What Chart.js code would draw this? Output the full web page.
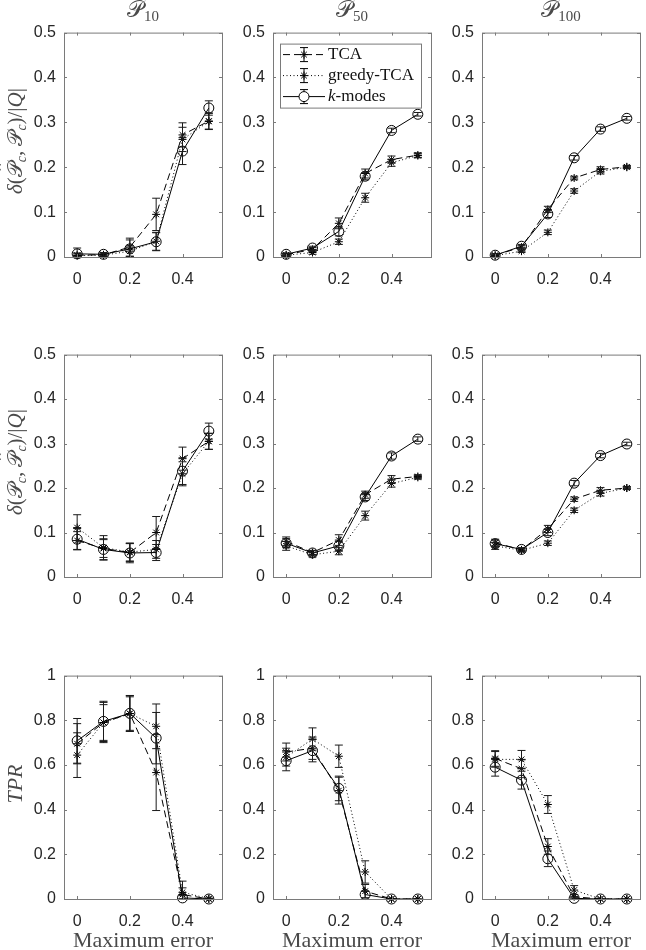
<!DOCTYPE html>
<html>
<head>
<meta charset="utf-8">
<script src="https://cdn.jsdelivr.net/npm/chart.js@4.4.0/dist/chart.umd.min.js"></script>
<style>
  html, body { margin: 0; padding: 0; background: #fff; }
  #wrap { position: relative; width: 646px; height: 950px; overflow: hidden; }
  canvas { position: absolute; }
  .lbl { position: absolute; font-family: 'Liberation Serif', serif; color: #4a4a4a;
         white-space: nowrap; transform: translate(-50%, -50%); }
  .rot { transform: translate(-50%, -50%) rotate(-90deg); }
  .cal { font-family: 'DejaVu Serif', 'DejaVu Sans', serif; font-style: normal; }
  sub { font-size: 65%; vertical-align: -0.3em; line-height: 0; }
  .hat { position: relative; display: inline-block; }
  .hat::before { content: 'ˆ'; position: absolute; left: 0.3em; top: -0.45em; font-style: normal; }
</style>
</head>
<body>
<div id="wrap"></div>
<script>
'use strict';

// ---------------------------------------------------------------------------
// Data
// ---------------------------------------------------------------------------

const xVals  = [0, 0.1, 0.2, 0.3, 0.4, 0.5];
const xTicks = [0, 0.2, 0.4];
const yTicksDist = [0, 0.1, 0.2, 0.3, 0.4, 0.5];
const yTicksTpr  = [0, 0.2, 0.4, 0.6, 0.8, 1];
const seriesNames = ['TCA', 'greedy-TCA', 'k-modes'];
const columnTitles = ['10', '50', '100'];

// row 1: delta(P^_c, P_c)/|Q|
const r1p10Tca       = [0.004, 0.005, 0.022, 0.095, 0.272, 0.303];
const r1p10TcaErr    = [0.005, 0.004, 0.020, 0.036, 0.027, 0.018];
const r1p10Greedy    = [0.003, 0.004, 0.013, 0.035, 0.262, 0.302];
const r1p10GreedyErr = [0.004, 0.003, 0.012, 0.020, 0.027, 0.018];
const r1p10Kmodes    = [0.007, 0.006, 0.018, 0.034, 0.236, 0.332];
const r1p10KmodesErr = [0.013, 0.004, 0.020, 0.020, 0.030, 0.016];

const r1p50Tca       = [0.005, 0.017, 0.075, 0.186, 0.217, 0.227];
const r1p50TcaErr    = [0.003, 0.004, 0.012, 0.010, 0.008, 0.005];
const r1p50Greedy    = [0.004, 0.010, 0.034, 0.132, 0.210, 0.226];
const r1p50GreedyErr = [0.003, 0.004, 0.006, 0.010, 0.008, 0.005];
const r1p50Kmodes    = [0.006, 0.020, 0.057, 0.180, 0.282, 0.318];
const r1p50KmodesErr = [0.003, 0.004, 0.010, 0.008, 0.005, 0.004];

const r1p100Tca       = [0.004, 0.022, 0.106, 0.176, 0.195, 0.201];
const r1p100TcaErr    = [0.003, 0.004, 0.007, 0.004, 0.006, 0.003];
const r1p100Greedy    = [0.003, 0.013, 0.055, 0.147, 0.191, 0.200];
const r1p100GreedyErr = [0.002, 0.003, 0.005, 0.005, 0.006, 0.003];
const r1p100Kmodes    = [0.004, 0.024, 0.096, 0.221, 0.285, 0.309];
const r1p100KmodesErr = [0.003, 0.004, 0.008, 0.005, 0.005, 0.004];

// row 2: delta(P_c, P^_c)/|Q|
const r2p10Tca       = [0.082, 0.064, 0.055, 0.100, 0.266, 0.305];
const r2p10TcaErr    = [0.020, 0.020, 0.020, 0.036, 0.026, 0.018];
const r2p10Greedy    = [0.111, 0.066, 0.056, 0.062, 0.232, 0.305];
const r2p10GreedyErr = [0.029, 0.027, 0.020, 0.020, 0.027, 0.018];
const r2p10Kmodes    = [0.085, 0.062, 0.054, 0.055, 0.238, 0.328];
const r2p10KmodesErr = [0.024, 0.024, 0.022, 0.018, 0.030, 0.018];

const r2p50Tca       = [0.080, 0.055, 0.083, 0.185, 0.220, 0.226];
const r2p50TcaErr    = [0.010, 0.005, 0.012, 0.008, 0.008, 0.004];
const r2p50Greedy    = [0.070, 0.050, 0.058, 0.138, 0.210, 0.224];
const r2p50GreedyErr = [0.010, 0.005, 0.008, 0.010, 0.008, 0.004];
const r2p50Kmodes    = [0.076, 0.054, 0.070, 0.180, 0.272, 0.310];
const r2p50KmodesErr = [0.010, 0.005, 0.010, 0.008, 0.007, 0.005];

const r2p100Tca       = [0.077, 0.061, 0.108, 0.175, 0.195, 0.200];
const r2p100TcaErr    = [0.008, 0.004, 0.008, 0.005, 0.006, 0.003];
const r2p100Greedy    = [0.070, 0.060, 0.076, 0.150, 0.188, 0.200];
const r2p100GreedyErr = [0.008, 0.004, 0.005, 0.005, 0.006, 0.003];
const r2p100Kmodes    = [0.075, 0.062, 0.100, 0.211, 0.273, 0.299];
const r2p100KmodesErr = [0.008, 0.004, 0.007, 0.006, 0.005, 0.004];

// row 3: TPR
const r3p10Tca       = [0.695, 0.790, 0.830, 0.566, 0.020, 0.000];
const r3p10TcaErr    = [0.090, 0.080, 0.075, 0.170, 0.030, 0.000];
const r3p10Greedy    = [0.644, 0.790, 0.830, 0.773, 0.030, 0.002];
const r3p10GreedyErr = [0.100, 0.090, 0.080, 0.100, 0.050, 0.002];
const r3p10Kmodes    = [0.708, 0.795, 0.831, 0.720, 0.005, 0.000];
const r3p10KmodesErr = [0.100, 0.090, 0.080, 0.115, 0.010, 0.000];

const r3p50Tca       = [0.658, 0.675, 0.485, 0.035, 0, 0];
const r3p50TcaErr    = [0.040, 0.050, 0.060, 0.030, 0, 0];
const r3p50Greedy    = [0.635, 0.716, 0.639, 0.121, 0, 0];
const r3p50GreedyErr = [0.040, 0.050, 0.050, 0.050, 0, 0];
const r3p50Kmodes    = [0.619, 0.664, 0.495, 0.020, 0, 0];
const r3p50KmodesErr = [0.045, 0.050, 0.055, 0.015, 0, 0];

const r3p100Tca       = [0.629, 0.583, 0.235, 0.010, 0, 0];
const r3p100TcaErr    = [0.035, 0.040, 0.035, 0.010, 0, 0];
const r3p100Greedy    = [0.625, 0.625, 0.423, 0.040, 0, 0];
const r3p100GreedyErr = [0.035, 0.040, 0.040, 0.020, 0, 0];
const r3p100Kmodes    = [0.590, 0.532, 0.180, 0.003, 0, 0];
const r3p100KmodesErr = [0.040, 0.040, 0.035, 0.005, 0, 0];

// ---------------------------------------------------------------------------
// Layout
// ---------------------------------------------------------------------------

const colLeft = [64, 273, 482];
const plotW   = 158;
const rowTop  = [25, 347, 668];
const rowH    = [232, 230, 231];
const PAD_L = 60, PAD_T = 10, PAD_R = 8, PAD_B = 36;

const tickFont  = { family: "'Liberation Sans', Arial, sans-serif", size: 16 };
const tickColor = '#262626';
const frameColor = '#7a7a7a';

const panels = [
  { row: 0, col: 0, yMax: 0.5, yTicks: yTicksDist, s: [r1p10Tca, r1p10Greedy, r1p10Kmodes],   e: [r1p10TcaErr, r1p10GreedyErr, r1p10KmodesErr] },
  { row: 0, col: 1, yMax: 0.5, yTicks: yTicksDist, s: [r1p50Tca, r1p50Greedy, r1p50Kmodes],   e: [r1p50TcaErr, r1p50GreedyErr, r1p50KmodesErr], legend: true },
  { row: 0, col: 2, yMax: 0.5, yTicks: yTicksDist, s: [r1p100Tca, r1p100Greedy, r1p100Kmodes], e: [r1p100TcaErr, r1p100GreedyErr, r1p100KmodesErr] },
  { row: 1, col: 0, yMax: 0.5, yTicks: yTicksDist, s: [r2p10Tca, r2p10Greedy, r2p10Kmodes],   e: [r2p10TcaErr, r2p10GreedyErr, r2p10KmodesErr] },
  { row: 1, col: 1, yMax: 0.5, yTicks: yTicksDist, s: [r2p50Tca, r2p50Greedy, r2p50Kmodes],   e: [r2p50TcaErr, r2p50GreedyErr, r2p50KmodesErr] },
  { row: 1, col: 2, yMax: 0.5, yTicks: yTicksDist, s: [r2p100Tca, r2p100Greedy, r2p100Kmodes], e: [r2p100TcaErr, r2p100GreedyErr, r2p100KmodesErr] },
  { row: 2, col: 0, yMax: 1,   yTicks: yTicksTpr,  s: [r3p10Tca, r3p10Greedy, r3p10Kmodes],   e: [r3p10TcaErr, r3p10GreedyErr, r3p10KmodesErr] },
  { row: 2, col: 1, yMax: 1,   yTicks: yTicksTpr,  s: [r3p50Tca, r3p50Greedy, r3p50Kmodes],   e: [r3p50TcaErr, r3p50GreedyErr, r3p50KmodesErr] },
  { row: 2, col: 2, yMax: 1,   yTicks: yTicksTpr,  s: [r3p100Tca, r3p100Greedy, r3p100Kmodes], e: [r3p100TcaErr, r3p100GreedyErr, r3p100KmodesErr] },
];

// line style per series: dashed, dotted, solid
const seriesStyle = [
  { dash: [7, 4],   point: 'star',   radius: 4 },
  { dash: [1, 2.5], point: 'star',   radius: 4 },
  { dash: [],       point: 'circle', radius: 5 },
];

// ---------------------------------------------------------------------------
// Plugins
// ---------------------------------------------------------------------------

// vertical error bars with caps, drawn through the chart scales
const errorBars = {
  id: 'errorBars',
  afterDatasetsDraw(chart) {
    const errs = chart.config.options.plugins.errorBars.errs;
    const xs = chart.scales.x, ys = chart.scales.y, ctx = chart.ctx;
    ctx.save();
    ctx.strokeStyle = '#1a1a1a';
    ctx.lineWidth = 1;
    chart.data.datasets.forEach((ds, i) => {
      ds.data.forEach((pt, j) => {
        const e = errs[i][j];
        if (!e) return;
        const x  = xs.getPixelForValue(pt.x);
        const y1 = ys.getPixelForValue(pt.y + e);
        const y2 = ys.getPixelForValue(Math.max(pt.y - e, 0));
        ctx.beginPath();
        ctx.moveTo(x, y1); ctx.lineTo(x, y2);
        ctx.moveTo(x - 4, y1); ctx.lineTo(x + 4, y1);
        ctx.moveTo(x - 4, y2); ctx.lineTo(x + 4, y2);
        ctx.stroke();
      });
    });
    ctx.restore();
  },
};

// box around the axes with inward ticks on all four sides
const frame = {
  id: 'frame',
  afterDraw(chart) {
    const { left, right, top, bottom } = chart.chartArea;
    const xs = chart.scales.x, ys = chart.scales.y, ctx = chart.ctx;
    ctx.save();
    ctx.strokeStyle = frameColor;
    ctx.lineWidth = 1;
    ctx.strokeRect(left + 0.5, top + 0.5, right - left, bottom - top);
    ctx.beginPath();
    xs.ticks.forEach(t => {
      const x = Math.round(xs.getPixelForValue(t.value)) + 0.5;
      ctx.moveTo(x, bottom); ctx.lineTo(x, bottom - 3);
      ctx.moveTo(x, top);    ctx.lineTo(x, top + 3);
    });
    ys.ticks.forEach(t => {
      const y = Math.round(ys.getPixelForValue(t.value)) + 0.5;
      ctx.moveTo(left, y);  ctx.lineTo(left + 3, y);
      ctx.moveTo(right, y); ctx.lineTo(right - 3, y);
    });
    ctx.stroke();
    ctx.restore();
  },
};

// MATLAB-style legend box (line + marker + error bar sample)
const legendBox = {
  id: 'legendBox',
  afterDraw(chart) {
    if (!chart.config.options.plugins.legendBox.show) return;
    const { left, top } = chart.chartArea;
    const ctx = chart.ctx;
    const bx = left + 7, by = top + 11, bw = 141, bh = 64;
    ctx.save();
    ctx.fillStyle = '#fff';
    ctx.fillRect(bx, by, bw, bh);
    ctx.strokeStyle = frameColor;
    ctx.lineWidth = 1;
    ctx.strokeRect(bx + 0.5, by + 0.5, bw, bh);
    seriesNames.forEach((name, i) => {
      const y = by + 11 + i * 21;
      const st = seriesStyle[i];
      ctx.strokeStyle = '#000';
      ctx.setLineDash(st.dash);
      ctx.beginPath();
      ctx.moveTo(bx + 3, y); ctx.lineTo(bx + 45, y);
      ctx.stroke();
      ctx.setLineDash([]);
      const mx = bx + 24;
      ctx.beginPath();
      ctx.moveTo(mx, y - 7); ctx.lineTo(mx, y + 7);
      ctx.moveTo(mx - 4, y - 7); ctx.lineTo(mx + 4, y - 7);
      ctx.moveTo(mx - 4, y + 7); ctx.lineTo(mx + 4, y + 7);
      ctx.stroke();
      ctx.fillStyle = '#fff';
      Chart.helpers.drawPoint(ctx, { pointStyle: st.point, radius: st.radius, borderWidth: 1 }, mx, y);
      ctx.fillStyle = '#111';
      ctx.textBaseline = 'middle';
      ctx.textAlign = 'left';
      if (name === 'k-modes') {
        ctx.font = "italic 17px 'Liberation Serif', serif";
        ctx.fillText('k', bx + 48, y);
        const w = ctx.measureText('k').width;
        ctx.font = "17px 'Liberation Serif', serif";
        ctx.fillText('-modes', bx + 48 + w, y);
      } else {
        ctx.font = "17px 'Liberation Serif', serif";
        ctx.fillText(name, bx + 48, y);
      }
    });
    ctx.restore();
  },
};

// ---------------------------------------------------------------------------
// Chart builder
// ---------------------------------------------------------------------------

const wrap = document.getElementById('wrap');

function buildPanel(p) {
  const w = PAD_L + plotW + PAD_R;
  const h = PAD_T + rowH[p.row] + PAD_B;
  const cv = document.createElement('canvas');
  cv.width = w; cv.height = h;
  cv.style.width = w + 'px'; cv.style.height = h + 'px';
  cv.style.left = (colLeft[p.col] - PAD_L) + 'px';
  cv.style.top  = (rowTop[p.row] - PAD_T) + 'px';
  wrap.appendChild(cv);

  const datasets = p.s.map((vals, i) => ({
    label: seriesNames[i],
    data: xVals.map((x, j) => ({ x, y: vals[j] })),
    borderColor: '#000',
    borderWidth: 1,
    borderDash: seriesStyle[i].dash,
    pointStyle: seriesStyle[i].point,
    pointRadius: seriesStyle[i].radius,
    pointBorderColor: '#000',
    pointBackgroundColor: 'rgba(0,0,0,0)',
    pointBorderWidth: 1,
    fill: false,
    tension: 0,
    clip: false,
  }));

  return new Chart(cv, {
    type: 'line',
    data: { datasets },
    options: {
      responsive: false,
      animation: false,
      events: [],
      layout: { padding: { top: PAD_T, right: PAD_R, left: 0, bottom: 0 } },
      plugins: {
        legend: { display: false },
        tooltip: { enabled: false },
        errorBars: { errs: p.e },
        legendBox: { show: !!p.legend },
      },
      scales: {
        x: {
          type: 'linear', min: -0.05, max: 0.55,
          afterFit: s => { s.height = PAD_B; },
          afterBuildTicks: s => { s.ticks = xTicks.map(v => ({ value: v })); },
          grid: { display: false, drawTicks: false },
          border: { display: false },
          ticks: { font: tickFont, color: tickColor, padding: 13, maxRotation: 0,
                   callback: v => String(Math.round(v * 10) / 10) },
        },
        y: {
          type: 'linear', min: 0, max: p.yMax,
          afterFit: s => { s.width = PAD_L; },
          afterBuildTicks: s => { s.ticks = p.yTicks.map(v => ({ value: v })); },
          grid: { display: false, drawTicks: false },
          border: { display: false },
          ticks: { font: tickFont, color: tickColor, padding: 8,
                   callback: v => String(Math.round(v * 10) / 10) },
        },
      },
    },
    plugins: [errorBars, frame, legendBox],
  });
}

panels.forEach(buildPanel);

// ---------------------------------------------------------------------------
// Text labels (titles, axis labels)
// ---------------------------------------------------------------------------

function addLabel(html, x, y, size, rotate) {
  const d = document.createElement('div');
  d.className = 'lbl' + (rotate ? ' rot' : '');
  d.style.left = x + 'px';
  d.style.top = y + 'px';
  d.style.fontSize = size + 'px';
  d.innerHTML = html;
  wrap.appendChild(d);
}

columnTitles.forEach((t, c) => {
  addLabel('<span class="cal">𝒫</span><sub>' + t + '</sub>', colLeft[c] + plotW / 2, 9, 23);
  addLabel('Maximum error', colLeft[c] + plotW / 2, 940, 22);
});

const P = '<span class="cal">𝒫</span>';
const Phat = '<span class="hat"><span class="cal">𝒫</span></span>';
addLabel('<i>δ</i>(' + Phat + '<sub><i>c</i></sub>, ' + P + '<sub><i>c</i></sub>)/|<i>Q</i>|',
         15, rowTop[0] + rowH[0] / 2, 21, true);
addLabel('<i>δ</i>(' + P + '<sub><i>c</i></sub>, ' + Phat + '<sub><i>c</i></sub>)/|<i>Q</i>|',
         15, rowTop[1] + rowH[1] / 2, 21, true);
addLabel('<i>TPR</i>', 15, rowTop[2] + rowH[2] / 2, 22, true);
</script>
</body>
</html>
